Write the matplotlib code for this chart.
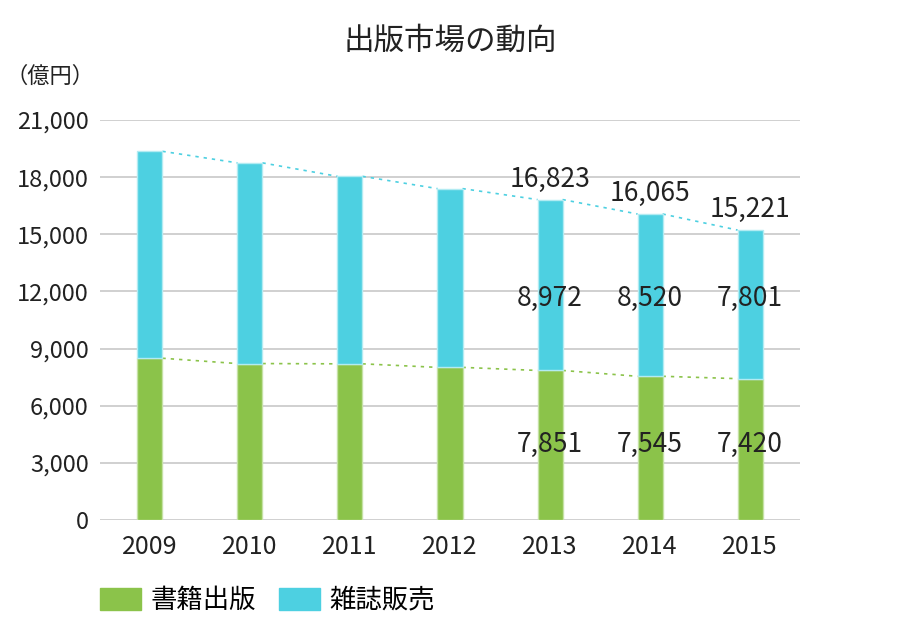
import matplotlib
matplotlib.use("Agg")
import matplotlib.pyplot as plt
from matplotlib.patches import Patch

plt.rcParams['font.family'] = ['Noto Sans CJK JP', 'DejaVu Sans']

years = ['2009', '2010', '2011', '2012', '2013', '2014', '2015']
books = [8492, 8213, 8199, 8013, 7851, 7545, 7420]      # 書籍出版
magazines = [10864, 10536, 9844, 9385, 8972, 8520, 7801]  # 雑誌販売
labeled = [4, 5, 6]   # years with value labels

c_books = '#8bc34a'
c_mags = '#4dd0e1'
w = 0.25

fig = plt.figure(figsize=(9, 6.4), dpi=100)
ax = fig.add_axes([0.111, 0.1875, 0.778, 0.625])

x = list(range(len(years)))
totals = [b + m for b, m in zip(books, magazines)]

ax.bar(x, books, width=w, color=c_books, edgecolor='#c5e1a5', linewidth=1, zorder=3)
ax.bar(x, magazines, width=w, bottom=books, color=c_mags, edgecolor='#b2ebf2', linewidth=1, zorder=3)

# series lines between bar tops
for i in range(len(x) - 1):
    ax.plot([x[i] + w / 2, x[i + 1] - w / 2], [books[i], books[i + 1]],
            ls=(0, (2, 3)), color=c_books, lw=1.2, zorder=2)
    ax.plot([x[i] + w / 2, x[i + 1] - w / 2], [totals[i], totals[i + 1]],
            ls=(0, (2, 3)), color=c_mags, lw=1.2, zorder=2)

for i in labeled:
    ax.text(x[i], totals[i] + 350, f'{totals[i]:,}', ha='center', va='bottom',
            fontsize=19, color='#222222', zorder=4)
    ax.text(x[i], 11650, f'{magazines[i]:,}', ha='center', va='center',
            fontsize=19, color='#222222', zorder=4)
    ax.text(x[i], 3950, f'{books[i]:,}', ha='center', va='center',
            fontsize=19, color='#222222', zorder=4)

ax.set_xlim(-0.5, 6.5)
ax.set_ylim(0, 21000)
ax.set_yticks(range(0, 21001, 3000))
ax.set_yticklabels([f'{v:,}' for v in range(0, 21001, 3000)])
ax.set_xticks(x)
ax.set_xticklabels(years)
ax.grid(axis='y', color='#c8c8c8', lw=1.2, zorder=0)
ax.tick_params(length=0, labelsize=17, colors='#222222', pad=8)
ax.tick_params(axis='x', labelsize=18, pad=10)
for s in ax.spines.values():
    s.set_visible(False)

fig.text(0.5, 0.935, '出版市場の動向', ha='center', va='center', fontsize=22, color='#222222')
fig.text(0.006, 0.88, '（億円）', ha='left', va='center', fontsize=16, color='#222222')

handles = [Patch(color=c_books, label='書籍出版'), Patch(color=c_mags, label='雑誌販売')]
fig.legend(handles=handles, loc='center left', bbox_to_anchor=(0.111, 0.062), ncol=2,
           frameon=False, fontsize=19, handlelength=1.55, handleheight=0.92,
           handletextpad=0.38, columnspacing=0.85, borderpad=0, borderaxespad=0)

fig.savefig('out.png', dpi=100)
